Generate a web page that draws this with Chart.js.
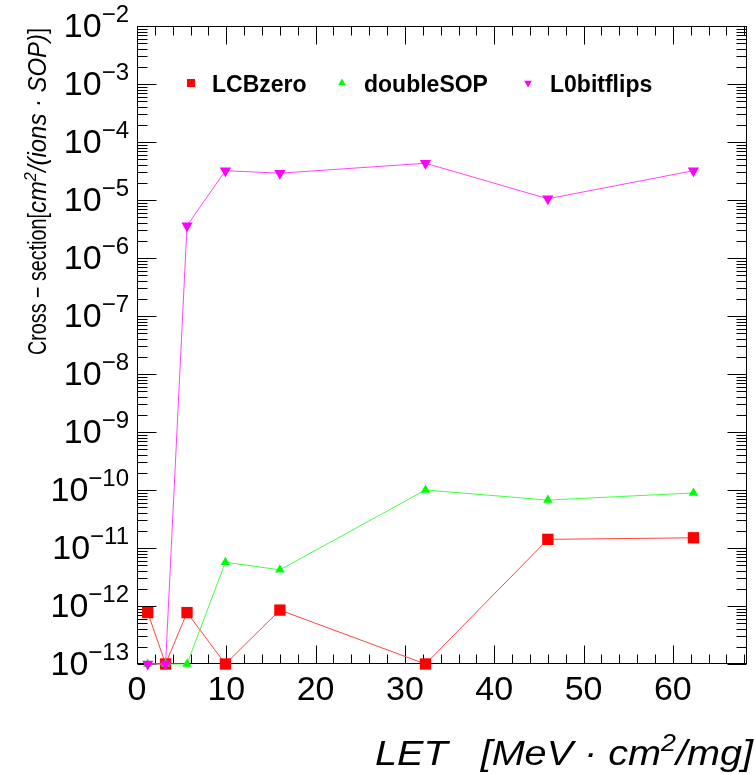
<!DOCTYPE html>
<html>
<head>
<meta charset="utf-8">
<script src="https://cdn.jsdelivr.net/npm/chart.js@4/dist/chart.umd.min.js"></script>
<style>
  html, body { margin: 0; padding: 0; background: #ffffff; }
  canvas { display: block; }
</style>
</head>
<body>
<canvas id="c" width="755" height="774"></canvas>
<script>
// LET values of the ion runs [MeV·cm²/mg]
const letValues  = [1.2, 3.2, 5.6, 9.9, 16.0, 32.3, 46.0, 62.3];
// measured cross-sections [cm²/(ions·SOP)]
const lcbZero    = [7.7e-13, 1e-13, 7.7e-13, 1e-13, 8.5e-13, 1e-13, 1.41e-11, 1.5e-11];
const doubleSOP  = [1e-13, 1e-13, 1e-13, 5.7e-12, 4.2e-12, 1.0e-10, 6.7e-11, 8.9e-11];
const l0Bitflips = [1e-13, 1e-13, 3.6e-6, 3.2e-5, 2.9e-5, 4.3e-5, 1.05e-5, 3.2e-5];

const seriesNames = ['LCBzero', 'doubleSOP', 'L0bitflips'];
const xTickLabels = [0, 10, 20, 30, 40, 50, 60];
const yDecades = [-13, -12, -11, -10, -9, -8, -7, -6, -5, -4, -3, -2];

const FONT = '"Liberation Sans", Arial, Helvetica, sans-serif';

function points(ys) {
  return letValues.map((x, i) => ({ x: x, y: ys[i] }));
}

// Draw a run of text pieces (normal / italic / superscript), scaled
// horizontally so that the run covers `span` pixels.
function drawRich(ctx, parts, x, y, size, span) {
  const pieces = parts.map(p => {
    const s = p.sup ? size * 0.68 : size;
    const font = (p.italic ? 'italic ' : '') + s + 'px ' + FONT;
    ctx.font = font;
    return { t: p.t, font: font, w: ctx.measureText(p.t).width, dy: p.sup ? -size * 0.4 : 0 };
  });
  const total = pieces.reduce((a, p) => a + p.w, 0);
  const k = span ? span / total : 1;
  ctx.save();
  ctx.translate(x, y);
  ctx.scale(k, 1);
  ctx.textAlign = 'left';
  ctx.textBaseline = 'alphabetic';
  let cx = 0;
  for (const p of pieces) {
    ctx.font = p.font;
    ctx.fillText(p.t, cx, p.dy);
    cx += p.w;
  }
  ctx.restore();
  return x + span;
}

function marker(ctx, kind, x, y, r, color) {
  ctx.save();
  ctx.fillStyle = color;
  ctx.beginPath();
  if (kind === 'square') {
    ctx.rect(x - r, y - r, 2 * r, 2 * r);
  } else if (kind === 'up') {
    ctx.moveTo(x, y - r);
    ctx.lineTo(x + r * 0.866, y + r * 0.5);
    ctx.lineTo(x - r * 0.866, y + r * 0.5);
  } else {
    ctx.moveTo(x, y + r);
    ctx.lineTo(x + r * 0.866, y - r * 0.5);
    ctx.lineTo(x - r * 0.866, y - r * 0.5);
  }
  ctx.closePath();
  ctx.fill();
  ctx.restore();
}

// Frame with inward ticks on all four sides
const framePlugin = {
  id: 'frameAxes',
  beforeDatasetsDraw(chart) {
    const { ctx, chartArea: a, scales } = chart;
    const xs = scales.x, ys = scales.y;
    const L = Math.round(a.left) + 0.5, R = Math.round(a.right) - 0.5;
    const T = Math.round(a.top) + 0.5, B = Math.round(a.bottom) - 0.5;
    ctx.save();
    ctx.strokeStyle = '#000000';
    ctx.lineWidth = 1;
    ctx.strokeRect(L, T, R - L, B - T);
    ctx.beginPath();
    // x ticks: major every 10, minor every 2
    for (let v = 0; v <= xs.max + 1e-9; v += 2) {
      const px = Math.round(xs.getPixelForValue(v)) + 0.5;
      const len = (v % 10 === 0) ? 18 : 9;
      ctx.moveTo(px, B); ctx.lineTo(px, B - len);
      ctx.moveTo(px, T); ctx.lineTo(px, T + len);
    }
    // y ticks: decades and 2..9 subdivisions
    for (let d = -13; d <= -2; d++) {
      for (let m = 1; m <= 9; m++) {
        const v = m * Math.pow(10, d);
        if (v > ys.max * 1.0001) break;
        const py = Math.round(ys.getPixelForValue(v)) + 0.5;
        const len = m === 1 ? 19 : 10;
        ctx.moveTo(L, py); ctx.lineTo(L + len, py);
        ctx.moveTo(R, py); ctx.lineTo(R - len, py);
      }
    }
    ctx.stroke();
    ctx.restore();
  },
  afterDraw(chart) {
    const { ctx, scales } = chart;
    const xs = scales.x, ys = scales.y;
    ctx.save();
    ctx.fillStyle = '#000000';

    // x tick labels
    ctx.font = '34px ' + FONT;
    ctx.textAlign = 'center';
    ctx.textBaseline = 'alphabetic';
    for (const v of xTickLabels) {
      ctx.fillText(String(v), xs.getPixelForValue(v), 700);
    }

    // y tick labels 10^n, right aligned
    for (const d of yDecades) {
      const py = ys.getPixelForValue(Math.pow(10, d));
      const base = py + 11;
      const sup = '\u2212' + Math.abs(d);
      ctx.font = '24px ' + FONT;
      const ws = ctx.measureText(sup).width;
      ctx.textAlign = 'right';
      ctx.fillText(sup, 129, base - 15);
      ctx.font = '34px ' + FONT;
      ctx.fillText('10', 129 - ws, base);
    }

    // x axis title
    drawRich(ctx, [
      { t: 'LET   [', italic: true },
      { t: 'MeV \u00b7 cm', italic: true },
      { t: '2', italic: true, sup: true },
      { t: '/mg]', italic: true }
    ], 375, 765, 35, 378);

    // y axis title (reads bottom to top)
    ctx.save();
    ctx.translate(46, 355);
    ctx.rotate(-Math.PI / 2);
    let p = drawRich(ctx, [{ t: 'Cross \u2212 section[' }], 0, 0, 25, 142);
    p = drawRich(ctx, [
      { t: 'cm', italic: true },
      { t: '2', italic: true, sup: true },
      { t: '/(ions \u00b7 SOP)', italic: true }
    ], p, 0, 25, 179);
    drawRich(ctx, [{ t: ']' }], p, 0, 25, 6);
    ctx.restore();

    // legend
    const legend = [
      { kind: 'square', color: '#ff0000', mx: 191, tx: 212, r: 4 },
      { kind: 'up', color: '#00ff00', mx: 342, tx: 364, r: 4.5 },
      { kind: 'down', color: '#ff00ff', mx: 528, tx: 550, r: 4.5 }
    ];
    ctx.font = 'bold 23px ' + FONT;
    ctx.textAlign = 'left';
    legend.forEach((e, i) => {
      marker(ctx, e.kind, e.mx, 83, e.r, e.color);
      ctx.fillStyle = '#000000';
      ctx.fillText(seriesNames[i], e.tx, 92);
    });
    ctx.restore();
  }
};

new Chart(document.getElementById('c'), {
  type: 'line',
  data: {
    datasets: [
      {
        label: seriesNames[0], data: points(lcbZero), order: 3,
        borderColor: '#ff4444', backgroundColor: '#ff0000', borderWidth: 1,
        pointStyle: 'rect', pointRadius: 8, pointBorderWidth: 0,
        pointBackgroundColor: '#ff0000', clip: false
      },
      {
        label: seriesNames[1], data: points(doubleSOP), order: 2,
        borderColor: '#44ff44', backgroundColor: '#00ff00', borderWidth: 1,
        pointStyle: 'triangle', pointRadius: 5.5, pointBorderWidth: 0,
        pointBackgroundColor: '#00ff00', clip: false
      },
      {
        label: seriesNames[2], data: points(l0Bitflips), order: 1,
        borderColor: '#ff44ff', backgroundColor: '#ff00ff', borderWidth: 1,
        pointStyle: 'triangle', pointRotation: 180, pointRadius: 6.5, pointBorderWidth: 0,
        pointBackgroundColor: '#ff00ff', clip: false
      }
    ]
  },
  options: {
    responsive: false,
    animation: false,
    events: [],
    layout: { padding: { left: 137, right: 4, top: 26, bottom: 110 } },
    elements: { line: { tension: 0, fill: false } },
    plugins: { legend: { display: false }, tooltip: { enabled: false } },
    scales: {
      x: { type: 'linear', min: 0, max: 68.3, display: false },
      y: { type: 'logarithmic', min: 1e-13, max: 1e-2, display: false }
    }
  },
  plugins: [framePlugin]
});
</script>
</body>
</html>
